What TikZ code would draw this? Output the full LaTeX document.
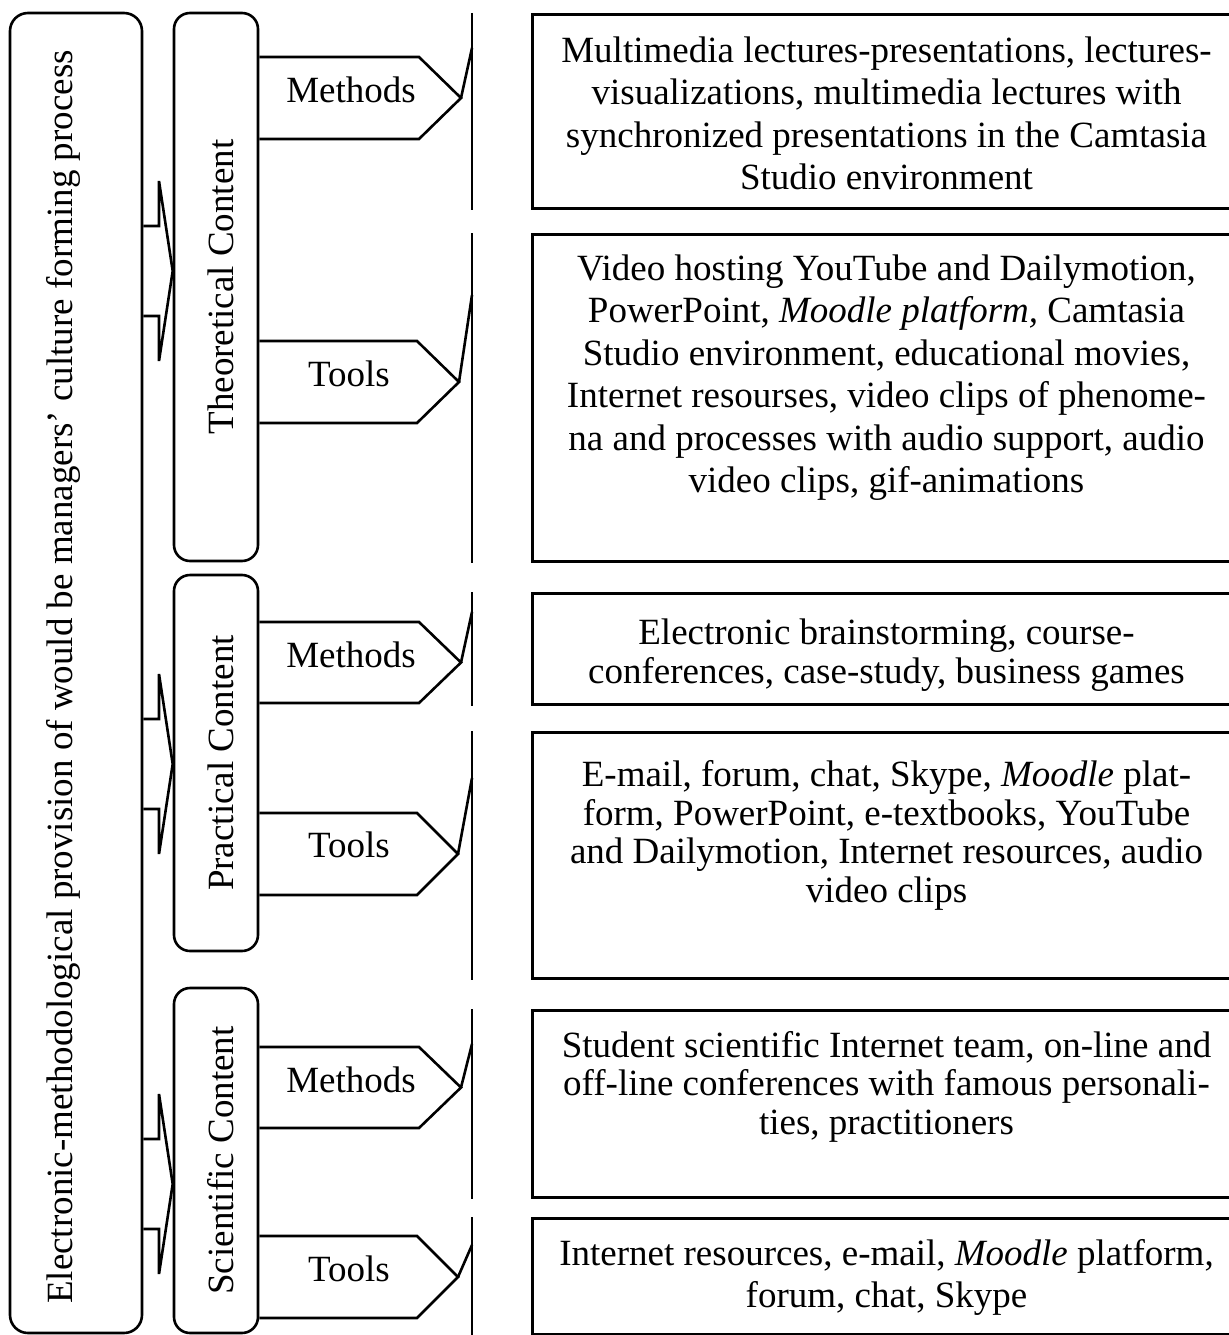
\documentclass[tikz,border=0pt]{standalone}
\usepackage{fontspec}
\setmainfont{Liberation Serif}
\usetikzlibrary{positioning}

\begin{document}
\begin{tikzpicture}[x=1pt,y=-1pt,line width=2.6pt,
    every node/.style={font=\fontsize{37}{42.5}\selectfont},
    roundbox/.style={draw,rounded corners=16pt,inner sep=0pt},
    infobox/.style={draw,line width=3pt,anchor=north west,minimum width=708pt,inner sep=0pt},
    infotext/.style={align=center,inner sep=0pt},
    tighttext/.style={infotext,font=\fontsize{37}{38.5}\selectfont},
    sidelabel/.style={rotate=90,anchor=base,inner sep=0pt},
    armlabel/.style={anchor=base,inner sep=0pt}]
\useasboundingbox (0,0) rectangle (1228,1335);

\node[roundbox,rounded corners=18pt,minimum width=132pt,minimum height=1320pt] (main) at (76,673) {};
\node[sidelabel] (mainlabel) at (72,677) {Electronic-methodological provision of would be managers’ culture forming process};

\node[roundbox,minimum width=84pt,minimum height=548pt] (theory) at (216,287) {};
\node[sidelabel] (theorylabel) at (233,287) {Theoretical Content};
\node[roundbox,minimum width=84pt,minimum height=376pt] (practice) at (216,763) {};
\node[sidelabel] (practicelabel) at (233,763) {Practical Content};
\node[roundbox,minimum width=84pt,minimum height=345pt] (science) at (216,1160.5) {};
\node[sidelabel] (sciencelabel) at (233,1160.5) {Scientific Content};

\draw (main.east |- 0,226) -- (159,226) -- (159,181) -- (theory.west |- 0,271) -- (159,361) -- (159,316) -- (main.east |- 0,316);
\draw (main.east |- 0,719) -- (159,719) -- (159,674) -- (practice.west |- 0,764) -- (159,854) -- (159,809) -- (main.east |- 0,809);
\draw (main.east |- 0,1139) -- (159,1139) -- (159,1094) -- (science.west |- 0,1184) -- (159,1274) -- (159,1229) -- (main.east |- 0,1229);

\draw (theory.east |- 0,57) -- (419,57) -- (461,98) coordinate (tmtip) -- (419,139) -- (theory.east |- 0,139);
\node[armlabel] (tmlabel) at (351,103) {Methods};
\draw (theory.east |- 0,341) -- (417,341) -- (459,382) coordinate (tttip) -- (417,423) -- (theory.east |- 0,423);
\node[armlabel] (ttlabel) at (349,386) {Tools};
\draw (practice.east |- 0,622) -- (419,622) -- (461,662.5) coordinate (pmtip) -- (419,703) -- (practice.east |- 0,703);
\node[armlabel] (pmlabel) at (351,667) {Methods};
\draw (practice.east |- 0,813) -- (417,813) -- (458,854) coordinate (pttip) -- (417,895) -- (practice.east |- 0,895);
\node[armlabel] (ptlabel) at (349,857) {Tools};
\draw (science.east |- 0,1047) -- (419,1047) -- (461,1087.5) coordinate (smtip) -- (419,1128) -- (science.east |- 0,1128);
\node[armlabel] (smlabel) at (351,1092) {Methods};
\draw (science.east |- 0,1236) -- (417,1236) -- (458,1277) coordinate (sttip) -- (417,1318) -- (science.east |- 0,1318);
\node[armlabel] (stlabel) at (349,1281) {Tools};

\node[infobox,minimum height=194pt] (tmbox) at (531,13) {};
\node[infotext,below=22.5pt of tmbox.north] (tmtext) {Multimedia lectures-presentations, lectures-\\visualizations, multimedia lectures with\\synchronized presentations in the Camtasia\\Studio environment};
\node[infobox,minimum height=327pt] (ttbox) at (531,233) {};
\node[infotext,below=20.5pt of ttbox.north] (tttext) {Video hosting YouTube and Dailymotion,\\PowerPoint, \textit{Moodle platform,} Camtasia\\Studio environment, educational movies,\\Internet resourses, video clips of phenome-\\na and processes with audio support, audio\\video clips, gif-animations};
\node[infobox,minimum height=111pt] (pmbox) at (531,592) {};
\node[tighttext,below=26pt of pmbox.north] (pmtext) {Electronic brainstorming, course-\\conferences, case-study, business games};
\node[infobox,minimum height=246pt] (ptbox) at (531,731) {};
\node[tighttext,below=28.5pt of ptbox.north] (pttext) {E-mail, forum, chat, Skype, \textit{Moodle} plat-\\form, PowerPoint, e-textbooks, YouTube\\and Dailymotion, Internet resources, audio\\video clips};
\node[infobox,minimum height=187pt] (smbox) at (531,1009) {};
\node[tighttext,below=21pt of smbox.north] (smtext) {Student scientific Internet team, on-line and\\off-line conferences with famous personali-\\ties, practitioners};
\node[infobox,minimum height=116pt] (stbox) at (531,1217) {};
\node[infotext,font=\fontsize{37}{42}\selectfont,below=21pt of stbox.north] (sttext) {Internet resources, e-mail, \textit{Moodle} platform,\\forum, chat, Skype};

\draw ([xshift=-59pt]tmbox.north west) -- ([xshift=-59pt]tmbox.south west);
\draw ([xshift=-59pt]ttbox.north west) -- ([xshift=-59pt]ttbox.south west);
\draw ([xshift=-59pt]pmbox.north west) -- ([xshift=-59pt]pmbox.south west);
\draw ([xshift=-59pt]ptbox.north west) -- ([xshift=-59pt]ptbox.south west);
\draw ([xshift=-59pt]smbox.north west) -- ([xshift=-59pt]smbox.south west);
\draw ([xshift=-59pt]stbox.north west) -- ([xshift=-59pt]stbox.south west);

\draw (tmtip) -- (472,48);
\draw (tttip) -- (472,295);
\draw (pmtip) -- (472,612);
\draw (pttip) -- (472,778);
\draw (smtip) -- (472,1044);
\draw (sttip) -- (472,1245);
\end{tikzpicture}
\end{document}
